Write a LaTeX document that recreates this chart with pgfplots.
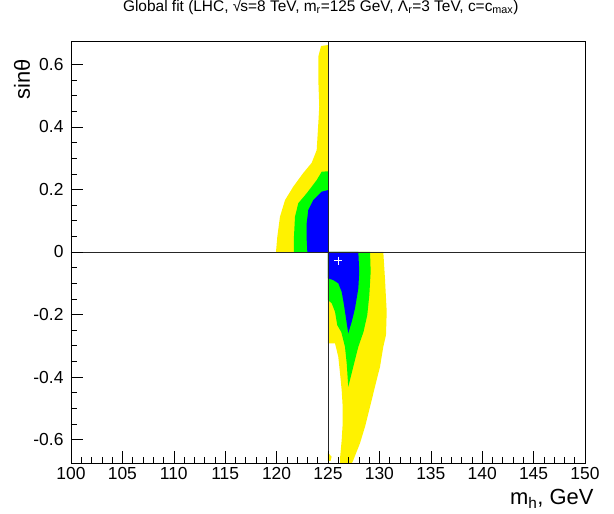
\documentclass[border=0pt]{standalone}
\usepackage{fontspec}
\setmainfont{Liberation Sans}
\usepackage{pgfplots}
\pgfplotsset{compat=1.18}
\newcommand{\sqrts}{√\kern-0.06em\rlap{\rule[0.74em]{0.52em}{0.07em}}s}
\begin{document}
\begin{tikzpicture}
\path[use as bounding box] (-71bp,-51bp) rectangle (543bp,463bp);
\begin{axis}[
  scale only axis, width=514bp, height=422bp,
  xmin=100, xmax=150, ymin=-0.675, ymax=0.675,
  xtick={100,105,...,150},
  ytick={-0.6,-0.4,-0.2,0,0.2,0.4,0.6},
  minor x tick num=4, minor y tick num=3,
  tick align=inside, xtick pos=left, ytick pos=left,
  major tick length=12bp, minor tick length=6bp,
  tick style={black, line width=0.6pt},
  axis line style={black, line width=0.8pt},
  axis on top,
  /pgf/number format/assume math mode=true,
  ticklabel style={font=\fontsize{17.5}{20}\selectfont},
  yticklabel style={/pgf/number format/fixed, /pgf/number format/precision=1, xshift=-4bp},
  xticklabel style={yshift=-1bp},
  title={Global fit (LHC, \sqrts=8 TeV, m\textsubscript{r}=125 GeV, Λ\textsubscript{r}=3 TeV, c=c\textsubscript{max})},
  title style={at={(rel axis cs:0.486,1)}, anchor=base, yshift=24bp, font=\fontsize{15.5}{18}\selectfont},
  xlabel={m\textsubscript{h}, GeV},
  xlabel style={at={(rel axis cs:1,0)}, anchor=base east, xshift=12bp, yshift=-41bp, font=\fontsize{22}{26}\selectfont},
  ylabel={sinθ},
  ylabel style={at={(rel axis cs:0,1)}, anchor=east, xshift=-15bp, yshift=49bp, font=\fontsize{22}{26}\selectfont},
]
% 2 sigma (yellow)
\addplot[fill=yellow, draw=none] coordinates {
 (119.94,0) (120.07,0.049) (120.33,0.113) (120.82,0.166) (121.62,0.209) (122.60,0.253)
 (123.41,0.285) (123.90,0.326) (124.06,0.413) (124.15,0.465) (124.06,0.550) (124.06,0.625)
 (124.32,0.659) (125,0.662) (125,0)} -- cycle;
\addplot[fill=yellow, draw=none] coordinates {
 (125,0) (130.38,0) (130.54,-0.084) (130.71,-0.191) (130.64,-0.266) (130.38,-0.303)
 (130.06,-0.367) (129.57,-0.431) (129.09,-0.495) (128.60,-0.559) (128.11,-0.612)
 (127.46,-0.666) (127.33,-0.675) (126.17,-0.675) (126.17,-0.660) (126.33,-0.602)
 (126.43,-0.548) (126.43,-0.495) (126.33,-0.442) (126.17,-0.388) (126.00,-0.335)
 (125.68,-0.292) (125,-0.292)} -- cycle;
\addplot[fill=yellow, draw=none] coordinates {
 (125,-0.642) (125.35,-0.655) (125.25,-0.668) (125,-0.668)} -- cycle;
% 1.5 sigma (green)
\addplot[fill=green, draw=none] coordinates {
 (121.69,0) (121.69,0.049) (121.79,0.113) (122.11,0.156) (122.93,0.188) (123.90,0.230)
 (124.39,0.257) (125,0.258) (125,0)} -- cycle;
\addplot[fill=green, draw=none] coordinates {
 (125,0) (129.09,0) (129.15,-0.063) (129.02,-0.138) (128.82,-0.202) (128.45,-0.256)
 (127.95,-0.303) (127.46,-0.367) (126.97,-0.431) (126.82,-0.356) (126.65,-0.303)
 (126.29,-0.256) (125.90,-0.234) (125.68,-0.191) (125.36,-0.164) (125,-0.154)} -- cycle;
% 1 sigma (blue)
\addplot[fill=blue, draw=none] coordinates {
 (122.99,0) (122.93,0.038) (122.93,0.092) (123.08,0.134) (123.57,0.166) (124.39,0.193)
 (125,0.198) (125,0)} -- cycle;
\addplot[fill=blue, draw=none] coordinates {
 (125,0) (127.95,0) (128.04,-0.063) (127.95,-0.116) (127.63,-0.180) (127.31,-0.223)
 (126.97,-0.260) (126.75,-0.212) (126.56,-0.170) (126.33,-0.127) (126.00,-0.100)
 (125.52,-0.090) (125,-0.084)} -- cycle;
% reference lines
\addplot[black!85, line width=0.8pt] coordinates {(125,-0.675) (125,0.675)};
\addplot[black!85, line width=0.8pt] coordinates {(100,0) (150,0)};
% best fit point
\addplot[only marks, mark=+, white, mark size=4bp, line width=0.8pt] coordinates {(126.0,-0.028)};
\end{axis}
\end{tikzpicture}
\end{document}
